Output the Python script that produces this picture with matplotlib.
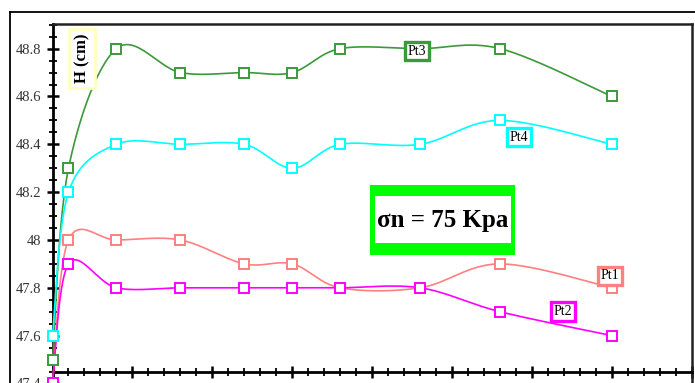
import numpy as np
import matplotlib
matplotlib.use("Agg")
import matplotlib.pyplot as plt
from matplotlib.patches import Rectangle
from matplotlib.ticker import MultipleLocator

## data
x = [0, 2, 8, 16, 24, 30, 36, 46, 56, 70]
pt1 = [47.4, 48.0, 48.0, 48.0, 47.9, 47.9, 47.8, 47.8, 47.9, 47.8]
pt2 = [47.4, 47.9, 47.8, 47.8, 47.8, 47.8, 47.8, 47.8, 47.7, 47.6]
pt3 = [47.5, 48.3, 48.8, 48.7, 48.7, 48.7, 48.8, 48.8, 48.8, 48.6]
pt4 = [47.6, 48.2, 48.4, 48.4, 48.4, 48.3, 48.4, 48.4, 48.5, 48.4]
names = ["Pt1", "Pt2", "Pt3", "Pt4"]
colors = ["#ff8080", "#ff00ff", "#3a9a3a", "#00ffff"]
label_pos = [(69.7, 47.85), (63.9, 47.70), (45.6, 48.79), (58.4, 48.43)]

plt.rcParams["font.family"] = ["Liberation Serif", "DejaVu Serif"]


## smoothed line like the spreadsheet one (bezier through the points)
def smooth(xs, ys, n=30):
    xs = np.asarray(xs, float)
    ys = np.asarray(ys, float)
    px = np.concatenate([[xs[0]], xs, [xs[-1]]])
    py = np.concatenate([[ys[0]], ys, [ys[-1]]])
    ox, oy = [], []
    t = np.linspace(0, 1, n)
    for i in range(1, len(px) - 2):
        p0 = np.array([px[i], py[i]])
        p3 = np.array([px[i + 1], py[i + 1]])
        c1 = p0 + (np.array([px[i + 1], py[i + 1]]) - np.array([px[i - 1], py[i - 1]])) / 6
        c2 = p3 - (np.array([px[i + 2], py[i + 2]]) - np.array([px[i], py[i]])) / 6
        b = (np.outer((1 - t) ** 3, p0) + np.outer(3 * (1 - t) ** 2 * t, c1)
             + np.outer(3 * (1 - t) * t ** 2, c2) + np.outer(t ** 3, p3))
        ox.extend(b[:, 0])
        oy.extend(b[:, 1])
    return ox, oy


fig = plt.figure(figsize=(6.95, 3.83), dpi=100)
W, H = 695, 383
# axes: left 52px, right 692px, top 24px, runs below bottom of picture
ax = fig.add_axes([52.5 / W, -24.4 / H, (692 - 52.5) / W, (359 + 24.4) / H])
ax.set_xlim(0, 80)
ax.set_ylim(47.3, 48.903)

series = [pt1, pt2, pt3, pt4]
for ys, c in zip(series, colors):
    sx, sy = smooth(x, ys)
    ax.plot(sx, sy, color=c, lw=1.2, zorder=3, clip_on=False)
    ax.plot(x, ys, ls="none", marker="s", ms=7.5, mfc="white", mec=c, mew=1.4,
            zorder=4, clip_on=False)

for name, c, (lx, ly) in zip(names, colors, label_pos):
    ax.text(lx, ly, name, fontsize=10, ha="center", va="center", zorder=6,
            bbox=dict(boxstyle="square,pad=0.2", fc="white", ec=c, lw=2.4))

# spines
ax.spines["left"].set_linewidth(2)
ax.spines["bottom"].set_position(("data", 47.448))
ax.spines["bottom"].set_linewidth(2)
for s in ["top", "right"]:
    ax.spines[s].set_linewidth(1.8)
    ax.spines[s].set_color("#222222")

ax.yaxis.set_major_locator(MultipleLocator(0.2))
ax.yaxis.set_minor_locator(MultipleLocator(0.05))
ax.xaxis.set_major_locator(MultipleLocator(10))
ax.xaxis.set_minor_locator(MultipleLocator(2))
ax.tick_params(which="major", direction="inout", length=9, width=1.8,
               labelsize=10.5, colors="black", labelcolor="#333333")
ax.tick_params(which="minor", direction="inout", length=6, width=1.3)
ax.tick_params(axis="x", labelbottom=False)
ax.set_yticks([47.4, 47.6, 47.8, 48.0, 48.2, 48.4, 48.6, 48.8])
ax.set_yticklabels(["47.4", "47.6", "47.8", "48", "48.2", "48.4", "48.6", "48.8"])
for lab in ax.get_yticklabels():
    lab.set_clip_on(False)

# axis title box
ax.text(0.046, 0.91, "H (cm)", transform=ax.transAxes, rotation=90,
        fontsize=12, fontweight="bold", ha="center", va="center", zorder=6,
        bbox=dict(boxstyle="square,pad=0.3", fc="white", ec="#ffffc0", lw=2))

# sigma box
fig.patches.append(Rectangle((370 / W, 1 - 255 / H), 145 / W, 70 / H,
                             transform=fig.transFigure, fc="#00ff00", ec="none", zorder=5))
fig.patches.append(Rectangle((375 / W, 1 - 243 / H), 136 / W, 47 / H,
                             transform=fig.transFigure, fc="white", ec="none", zorder=5))
fig.text(442.5 / W, 1 - 220 / H, "\u03c3n = 75 Kpa", fontsize=18, fontweight="bold",
         ha="center", va="center", zorder=7)

# outer frame lines
fig.add_artist(plt.Line2D([10 / W, 1], [1 - 12 / H, 1 - 12 / H], color="black", lw=1.3,
                          transform=fig.transFigure))
fig.add_artist(plt.Line2D([10 / W, 10 / W], [0, 1 - 12 / H], color="black", lw=1.3,
                          transform=fig.transFigure))

fig.savefig("out.png", dpi=100)
